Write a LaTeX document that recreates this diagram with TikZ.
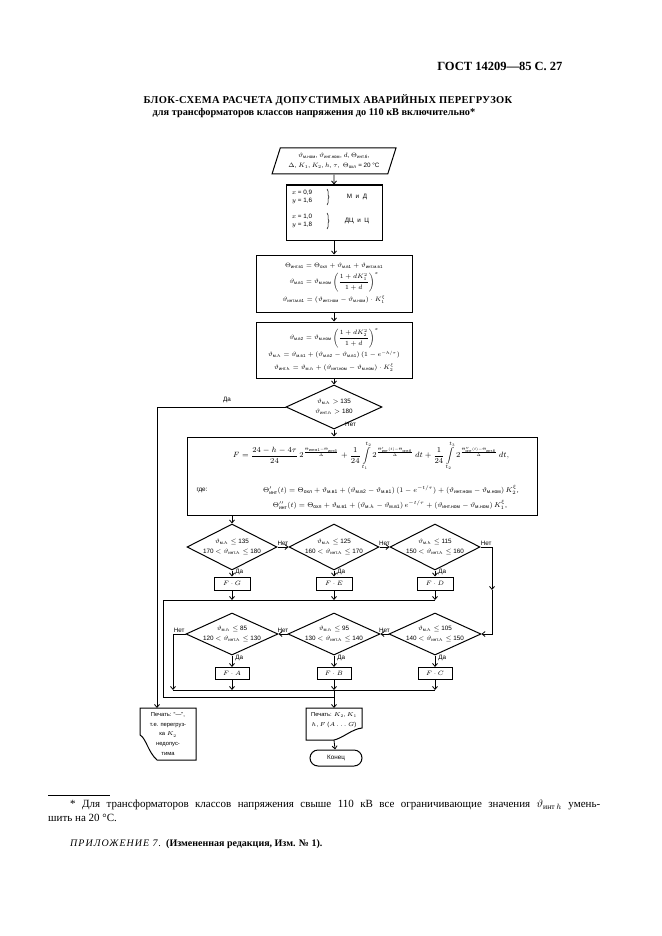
\RequirePackage{fix-cm}
\documentclass[tikz,border=0pt]{standalone}
\usepackage{amsmath}
\usepackage{fontspec}
\setmainfont{Liberation Serif}
\newfontfamily\chartfont{Liberation Sans}
\usetikzlibrary{shapes.geometric,arrows.meta,decorations.pathreplacing}
\tikzset{
  box/.style={draw, line width=1pt, rectangle, inner sep=1pt, align=center},
  decision/.style={draw, line width=1pt, diamond, aspect=2.2, inner sep=0pt, align=center},
  fbox/.style={draw, line width=1pt, minimum width=36pt, minimum height=13pt, inner sep=0pt},
  lbl/.style={inner sep=1pt},
  flow/.style={line width=0.8pt},
  arr/.style={flow, -{Straight Barb[length=3pt,width=5pt]}},
}
\begin{document}
\begin{tikzpicture}[x=1pt, y=-1pt, font=\chartfont\fontsize{6.3}{7.5}\selectfont]
  \useasboundingbox (0,0) rectangle (661,936);
  \node[anchor=east, font=\rmfamily\bfseries\fontsize{12.5}{14}\selectfont] (gost) at (566,66) {ГОСТ 14209—85 С. 27};
  \node[font=\rmfamily\bfseries\fontsize{10.5}{12}\selectfont\addfontfeature{LetterSpace=3}] (title) at (328,100) {БЛОК-СХЕМА РАСЧЕТА ДОПУСТИМЫХ АВАРИЙНЫХ ПЕРЕГРУЗОК};
  \node[font=\rmfamily\bfseries\fontsize{10.3}{12}\selectfont] (subtitle) at (314,113) {для трансформаторов классов напряжения до 110 кВ включительно*};
  \node[draw, line width=1pt, trapezium, trapezium left angle=65, trapezium right angle=115, trapezium stretches=true, minimum width=124pt, minimum height=26pt, inner sep=0pt, align=center] (inp) at (334,161) {$\vartheta_{\text{м.ном}}$, $\vartheta_{\text{инт.ном}}$, $d$, $\Theta_{\text{инт.б}}$,\\[2pt] $\Delta$, $K_1$, $K_2$, $h$, $\tau$, \ $\Theta_{\text{охл}}$ = 20 °C};
  \node[box, minimum width=96pt, minimum height=55pt] (coef) at (334,212.5) {};
  \node[align=center] (coefMD) at (302,197) {$x$ = 0,9\\$y$ = 1,6};
  \node (coefMDt) at (357,197) {М \ и \ Д};
  \node[align=center] (coefDC) at (302,221) {$x$ = 1,0\\$y$ = 1,8};
  \node (coefDCt) at (357,221) {ДЦ \ и \ Ц};
  \draw[decorate, decoration={brace, amplitude=2pt}, line width=0.5pt] (327,189) -- (327,205);
  \draw[decorate, decoration={brace, amplitude=2pt}, line width=0.5pt] (327,213) -- (327,229);
  \node[box, minimum width=156pt, minimum height=57pt] (calc1) at (334,283.5) {$\Theta_{\text{инт.в1}} = \Theta_{\text{охл}} + \vartheta_{\text{м.в1}} + \vartheta_{\text{инт.м.в1}}$\\[3pt] $\displaystyle\vartheta_{\text{м.в1}} = \vartheta_{\text{м.ном}}\left(\frac{1+dK_1^2}{1+d}\right)^{x}$\\[3pt] $\vartheta_{\text{инт.м.в1}} = (\vartheta_{\text{инт.ном}} - \vartheta_{\text{м.ном}})\cdot K_1^{\xi}$};
  \node[box, minimum width=156pt, minimum height=56pt] (calc2) at (334,350) {$\displaystyle\vartheta_{\text{м.в2}} = \vartheta_{\text{м.ном}}\left(\frac{1+dK_2^2}{1+d}\right)^{x}$\\[2pt] $\vartheta_{\text{м.}h} = \vartheta_{\text{м.в1}} + (\vartheta_{\text{м.в2}} - \vartheta_{\text{м.в1}})\,(1 - e^{-h/\tau})$\\[4pt] $\vartheta_{\text{инт.}h} = \vartheta_{\text{м.}h} + (\vartheta_{\text{инт.ном}} - \vartheta_{\text{м.ном}})\cdot K_2^{\xi}$};
  \node[decision, minimum width=96pt, minimum height=44pt] (chk) at (334,407) {$\vartheta_{\text{м.}h} >$ 135\\[3pt]$\vartheta_{\text{инт.}h} >$ 180};
  \node[box, minimum width=350pt, minimum height=78pt] (calcF) at (362,476) {};
  \node[font=\chartfont\fontsize{7.6}{9}\selectfont] (formF) at (371,456) {$\displaystyle F = \frac{24-h-4\tau}{24}\,2^{\frac{\Theta_{\text{инт.в1}}-\Theta_{\text{инт.б}}}{\Delta}} + \frac{1}{24}\int\limits_{t_1}^{t_2} 2^{\frac{\Theta'_{\text{инт}}(t)-\Theta_{\text{инт.б}}}{\Delta}}\,dt + \frac{1}{24}\int\limits_{t_2}^{t_3} 2^{\frac{\Theta''_{\text{инт}}(t)-\Theta_{\text{инт.б}}}{\Delta}}\,dt,$};
  \node (gde) at (202,490) {где:};
  \node[font=\chartfont\fontsize{7}{8.5}\selectfont] (formT1) at (391,490) {$\Theta'_{\text{инт}}(t) = \Theta_{\text{охл}} + \vartheta_{\text{м.в1}} + (\vartheta_{\text{м.в2}} - \vartheta_{\text{м.в1}})\,(1 - e^{-t/\tau}) + (\vartheta_{\text{инт.ном}} - \vartheta_{\text{м.ном}})\,K_2^{\xi}$,};
  \node[font=\chartfont\fontsize{7}{8.5}\selectfont] (formT2) at (390,505) {$\Theta''_{\text{инт}}(t) = \Theta_{\text{охл}} + \vartheta_{\text{м.в1}} + (\vartheta_{\text{м.}h} - \vartheta_{\text{м.в1}})\,e^{-t/\tau} + (\vartheta_{\text{инт.ном}} - \vartheta_{\text{м.ном}})\,K_1^{\xi}$,};
  \node[decision, aspect=2, minimum width=90pt, minimum height=46pt] (dG) at (232,547) {$\vartheta_{\text{м.}h} \le$ 135\\[2pt]170 $< \vartheta_{\text{инт.}h} \le$ 180};
  \node[decision, aspect=2, minimum width=90pt, minimum height=46pt] (dE) at (334,547) {$\vartheta_{\text{м.}h} \le$ 125\\[2pt]160 $< \vartheta_{\text{инт.}h} \le$ 170};
  \node[decision, aspect=2, minimum width=90pt, minimum height=46pt] (dD) at (435,547) {$\vartheta_{\text{м.}h} \le$ 115\\[2pt]150 $< \vartheta_{\text{инт.}h} \le$ 160};
  \node[fbox] (fG) at (232,583.5) {$F\cdot G$};
  \node[fbox] (fE) at (334,583.5) {$F\cdot E$};
  \node[fbox] (fD) at (435,583.5) {$F\cdot D$};
  \node[decision, minimum width=92pt, minimum height=42pt] (dA) at (232,634) {$\vartheta_{\text{м.}h} \le$ 85\\[2pt]120 $< \vartheta_{\text{инт.}h} \le$ 130};
  \node[decision, minimum width=92pt, minimum height=42pt] (dB) at (334,634) {$\vartheta_{\text{м.}h} \le$ 95\\[2pt]130 $< \vartheta_{\text{инт.}h} \le$ 140};
  \node[decision, minimum width=92pt, minimum height=42pt] (dC) at (435,634) {$\vartheta_{\text{м.}h} \le$ 105\\[2pt]140 $< \vartheta_{\text{инт.}h} \le$ 150};
  \node[fbox, minimum width=34pt, minimum height=12pt] (fA) at (232,673.5) {$F\cdot A$};
  \node[fbox, minimum width=34pt, minimum height=12pt] (fB) at (334,673.5) {$F\cdot B$};
  \node[fbox, minimum width=34pt, minimum height=12pt] (fC) at (435,673.5) {$F\cdot C$};
  \node[align=center, font=\chartfont\fontsize{5.8}{9.8}\selectfont] (prnNo) at (168,734) {Печать: “—”,\\т.е. перегруз-\\ка $K_2$\\недопус-\\тима};
  \draw[line width=1pt] (140,708) -- (196,708) -- (196,760) -- (157,760) .. controls (148,752) and (146,738) .. (140,735) -- cycle;
  \node[align=center, font=\chartfont\fontsize{5.8}{9.5}\selectfont] (prnOk) at (334,720) {Печать: $K_2$, $K_1$\\$h$, $F$ ($A$ . . . $G$)};
  \draw[line width=1pt] (306,708) -- (362,708) -- (362,728) .. controls (352,729) and (343,738) .. (334,740) -- (306,740) -- cycle;
  \node[draw, line width=1pt, rounded corners=8pt, minimum width=52pt, minimum height=16pt] (fin) at (336,758) {Конец};
  \coordinate (prnNoTop) at (157,708);
  \coordinate (prnOkTop) at (334,708);
  \coordinate (prnOkBot) at (334,740);
  \coordinate (daTurn) at (157,407);
  \coordinate (m0L) at (163,600);
  \coordinate (m0R) at (435,600);
  \coordinate (m1L) at (173,690);
  \coordinate (m1R) at (435,690);
  \coordinate (m2L) at (163,697);
  \coordinate (m2R) at (334,697);
  \coordinate (dDturn) at (492,547);
  \coordinate (dDmid) at (492,590);
  \coordinate (dCturn) at (492,634);
  \coordinate (dAturn) at (173,634);
  \draw[arr] (inp) -- (coef);
  \draw[arr] (coef) -- (calc1);
  \draw[arr] (calc1) -- (calc2);
  \draw[arr] (calc2) -- (chk);
  \draw[arr] (chk) -- (chk |- calcF.north);
  \node[lbl, anchor=west] (lblNet0) at (344,424) {Нет};
  \draw[arr] (chk.west) -- (daTurn) -- (prnNoTop);
  \node[lbl] (lblDa0) at (227,400) {Да};
  \draw[arr] (dG.north |- calcF.south) -- (dG.north);
  \draw[arr] (dG.east) -- node[above, lbl] (lblNetG) {Нет} (dE.west);
  \draw[arr] (dE.east) -- node[above, lbl] (lblNetE) {Нет} (dD.west);
  \draw[arr] (dD.east) -- node[above, lbl] (lblNetD) {Нет} (dDturn) -- (dDmid);
  \draw[arr] (dDmid) -- (dCturn) -- (dC.east);
  \draw[arr] (dG) -- node[right=2pt, pos=0.2, lbl] (lblDaG) {Да} (fG);
  \draw[arr] (dE) -- node[right=2pt, pos=0.2, lbl] (lblDaE) {Да} (fE);
  \draw[arr] (dD) -- node[right=2pt, pos=0.2, lbl] (lblDaD) {Да} (fD);
  \draw[flow] (m0R) -- (m0L) -- (m2L) -- (m2R);
  \draw[arr] (fG) -- (fG |- m0L);
  \draw[arr] (fE) -- (fE |- m0L);
  \draw[arr] (fD) -- (fD |- m0L);
  \draw[arr] (dC.west) -- node[above, lbl] (lblNetC) {Нет} (dB.east);
  \draw[arr] (dB.west) -- node[above, lbl] (lblNetB) {Нет} (dA.east);
  \draw[arr] (dA.west) -- node[above, lbl] (lblNetA) {Нет} (dAturn) -- (m1L);
  \draw[arr] (dA) -- node[right=2pt, pos=0.2, lbl] (lblDaA) {Да} (fA);
  \draw[arr] (dB) -- node[right=2pt, pos=0.2, lbl] (lblDaB) {Да} (fB);
  \draw[arr] (dC) -- node[right=2pt, pos=0.2, lbl] (lblDaC) {Да} (fC);
  \draw[flow] (m1L) -- (m1R);
  \draw[arr] (fA) -- (fA |- m1L);
  \draw[arr] (fB) -- (fB |- m1L);
  \draw[arr] (fC) -- (fC |- m1L);
  \draw[arr] (fB |- m1L) -- (prnOkTop);
  \draw[arr] (prnOkBot) -- (fin);
  \draw[line width=0.5pt] (48,795) -- (110,795);
  \node[anchor=north west, text width=552pt, align=justify, inner sep=0pt, font=\rmfamily\fontsize{11}{14}\selectfont] (fnote) at (48,800) {\hspace*{22pt}* Для трансформаторов классов напряжения свыше 110 кВ все ограничивающие значения $\vartheta_{\text{инт}\,h}$ умень-\linebreak шить на 20 °С.};
  \node[anchor=base west, inner sep=0pt, font=\rmfamily\fontsize{10}{11}\selectfont] (appx) at (70,846) {{\itshape\addfontfeature{LetterSpace=10}ПРИЛОЖЕНИЕ 7.}\ \ \textbf{(Измененная редакция, Изм. № 1).}};
\end{tikzpicture}
\end{document}
